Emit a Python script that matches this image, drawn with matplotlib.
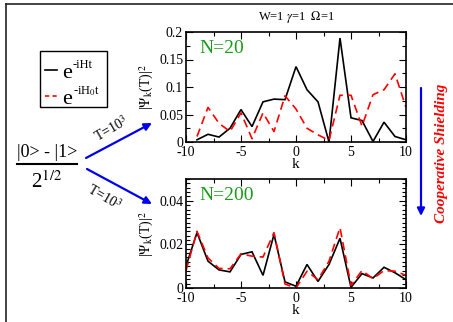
import matplotlib
matplotlib.use("Agg")
import matplotlib.pyplot as plt
from matplotlib.lines import Line2D
from matplotlib.patches import FancyArrowPatch, Rectangle
from matplotlib.ticker import MultipleLocator

plt.rcParams['font.family'] = ['Liberation Serif', 'DejaVu Serif']
plt.rcParams['mathtext.fontset'] = 'stix'

# N=20 panel
k20 = list(range(-9, 11))
full20 = [0.004, 0.014, 0.009, 0.025, 0.059, 0.028, 0.073, 0.078, 0.077, 0.137,
          0.095, 0.073, 0.000, 0.189, 0.044, 0.039, 0.001, 0.036, 0.010, 0.004]
h0_20 = [0.010, 0.063, 0.034, 0.019, 0.053, 0.006, 0.053, 0.019, 0.084, 0.060,
         0.025, 0.013, 0.003, 0.085, 0.085, 0.029, 0.086, 0.095, 0.124, 0.063]

# N=200 panel
k200 = list(range(-10, 11))
full200 = [0.0100, 0.0254, 0.0123, 0.0083, 0.0074, 0.0154, 0.0166, 0.0058, 0.0246, 0.0028,
           0.0008, 0.0108, 0.0030, 0.0108, 0.0228, 0.0003, 0.0066, 0.0046, 0.0095, 0.0070, 0.0038]
h0_200 = [0.0080, 0.0260, 0.0138, 0.0090, 0.0088, 0.0157, 0.0146, 0.0142, 0.0254, 0.0018,
          0.0000, 0.0077, 0.0038, 0.0123, 0.0277, 0.0012, 0.0080, 0.0043, 0.0080, 0.0077, 0.0058]

legend_labels = ['-iHt', '-iH$_0$t']

W, H = 453, 322
fig = plt.figure(figsize=(W / 100, H / 100), dpi=100)

def fx(px):
    return px / W

def fy(py):
    return 1 - py / H

ax1 = fig.add_axes([fx(186), fy(142), 220 / W, 110 / H])
ax2 = fig.add_axes([fx(186), fy(288), 220 / W, 109 / H])

for ax, k, a, b, ymax, ymaj, ymin, lab in [
        (ax1, k20, full20, h0_20, 0.2, 0.05, 0.025, 'N=20'),
        (ax2, k200, full200, h0_200, 0.05, 0.02, 0.002, 'N=200')]:
    ax.plot(k, a, color='black', lw=1.2, solid_joinstyle='miter')
    ax.plot(k, b, color='red', lw=1.2, ls=(0, (5, 3)))
    ax.set_xlim(-10, 10)
    ax.set_ylim(0, ymax)
    ax.xaxis.set_major_locator(MultipleLocator(5))
    ax.xaxis.set_minor_locator(MultipleLocator(2.5))
    ax.yaxis.set_major_locator(MultipleLocator(ymaj))
    ax.yaxis.set_minor_locator(MultipleLocator(ymin))
    ax.tick_params(which='both', direction='in', top=True, right=True, labelsize=10)
    ax.tick_params(axis='x', pad=3)
    ax.tick_params(axis='y', pad=2)
    ax.tick_params(which='major', length=5, width=0.8)
    ax.tick_params(which='minor', length=3, width=0.8)
    for s in ax.spines.values():
        s.set_linewidth(1.2)
    ax.set_xlabel('k', fontsize=11, labelpad=-1)
    ax.set_ylabel(r'|$\Psi_{\mathrm{k}}$(T)|$^{2}$', fontsize=10, labelpad=2)
    ax.text(0.06, 0.93, lab, transform=ax.transAxes, color='#1a9a1a', fontsize=14,
            va='top', ha='left')

ax1.set_yticks([0, 0.05, 0.1, 0.15, 0.2])
ax1.set_yticklabels(['0', '0.05', '0.1', '0.15', '0.2'])
ax2.set_yticks([0, 0.02, 0.04])
ax2.set_yticklabels(['0', '0.02', '0.04'])
for ax in (ax1, ax2):
    ax.set_xticks([-10, -5, 0, 5, 10])
    ax.set_xticklabels(['-10', '-5', '0', '5', '10'])

fig.text(fx(296), fy(17), r'W=1 $\gamma$=1  $\Omega$=1', fontsize=9, ha='center', va='center')

# legend box (drawn manually)
fig.add_artist(Rectangle((fx(40), fy(107)), fx(67), 56 / H, transform=fig.transFigure,
                         fill=False, edgecolor='black', lw=1.0))
fig.add_artist(Line2D([fx(45), fx(57)], [fy(70), fy(70)], color='black', lw=1.2))
fig.add_artist(Line2D([fx(45), fx(57)], [fy(96), fy(96)], color='red', lw=1.2,
                      ls=(0, (2.5, 2))))
for base, sup in zip([78, 104], legend_labels):
    fig.text(fx(62), fy(base), 'e', fontsize=16, ha='left', va='baseline')
    fig.text(fx(73), fy(base - 13), sup, fontsize=9, ha='left', va='center')

# fraction
fig.text(fx(47), fy(153), '|0> - |1>', fontsize=13, ha='center', va='center')
fig.add_artist(Line2D([fx(17), fx(77)], [fy(164), fy(164)], color='black', lw=1.5))
fig.text(fx(47), fy(182), r'2$^{\mathrm{1/2}}$', fontsize=15, ha='center', va='center')

# arrows
arr = dict(arrowstyle='-|>', color='#0000ee', lw=1.6, mutation_scale=11, shrinkA=0, shrinkB=0)
fig.add_artist(FancyArrowPatch((fx(86), fy(158)), (fx(152), fy(123)),
                               transform=fig.transFigure, **arr))
fig.add_artist(FancyArrowPatch((fx(87), fy(169)), (fx(152), fy(204)),
                               transform=fig.transFigure, **arr))
fig.add_artist(FancyArrowPatch((fx(421), fy(88)), (fx(421), fy(216)),
                               transform=fig.transFigure, **arr))
fig.text(fx(111), fy(129), r'T=10$^{3}$', fontsize=10, rotation=30, ha='center', va='center')
fig.text(fx(104), fy(197), r'T=10$^{3}$', fontsize=10, rotation=-30, ha='center', va='center')

fig.text(fx(441), fy(153), 'Cooperative Shielding', color='red', fontsize=11,
         fontweight='bold', fontstyle='italic', rotation=90, ha='center', va='center')

# frame lines
fig.add_artist(Line2D([fx(6), 1], [fy(4), fy(4)], color='#222222', lw=1.2))
fig.add_artist(Line2D([fx(6), fx(6)], [0, fy(4)], color='#222222', lw=1.2))

fig.savefig('out.png', dpi=100)
